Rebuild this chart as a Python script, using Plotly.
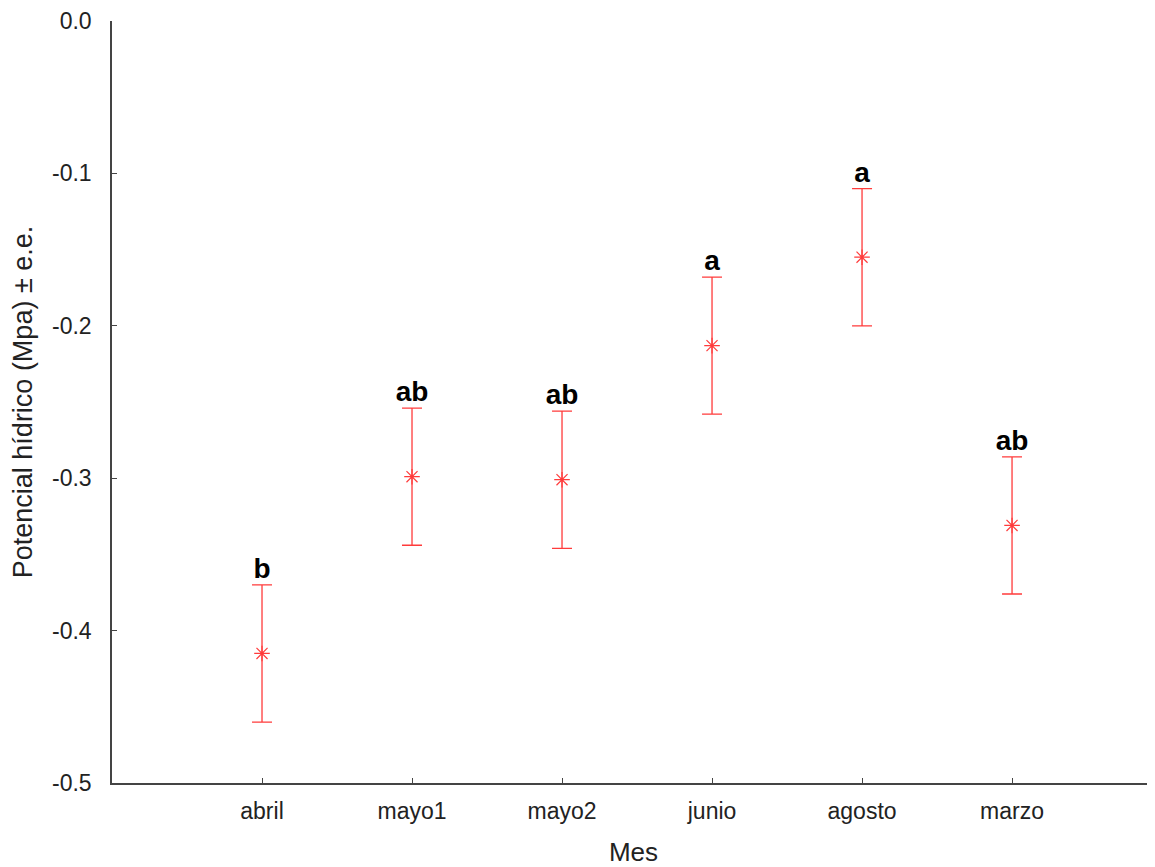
import plotly.graph_objects as go

meses = ["abril", "mayo1", "mayo2", "junio", "agosto", "marzo"]
medias = [-0.415, -0.299, -0.301, -0.213, -0.155, -0.331]
errores = [0.045, 0.045, 0.045, 0.045, 0.045, 0.045]
letras = ["b", "ab", "ab", "a", "a", "ab"]
y_ticks = [0.0, -0.1, -0.2, -0.3, -0.4, -0.5]
y_ticktext = ["0.0", "-0.1", "-0.2", "-0.3", "-0.4", "-0.5"]

red = "#ff3b3b"
xi = list(range(len(meses)))

fig = go.Figure()
fig.add_trace(go.Scatter(
    x=xi, y=medias, mode="markers",
    marker=dict(symbol="asterisk-open", size=13, color=red, line=dict(color=red, width=1.2)),
    error_y=dict(type="data", array=errores, visible=True, color=red, thickness=1.3, width=10),
    showlegend=False,
))
fig.add_trace(go.Scatter(
    x=xi, y=[m + e for m, e in zip(medias, errores)], mode="text",
    text=letras, textposition="top center",
    textfont=dict(family="Arial, Liberation Sans", size=28, color="black", weight="bold"),
    showlegend=False,
))

fig.update_layout(
    width=1147, height=859,
    margin=dict(l=104, r=0, t=13, b=84),
    plot_bgcolor="white", paper_bgcolor="white",
    font=dict(family="Arial, Liberation Sans", size=23, color="#222"),
    xaxis=dict(
        range=[-1, 5.953], tickvals=xi, ticktext=meses,
        showgrid=False, zeroline=False, showline=True, linecolor="#444", linewidth=1.5,
        ticks="inside", ticklen=5, tickcolor="#444", ticklabelstandoff=7,
        title=dict(text="Mes", font=dict(size=26), standoff=20),
    ),
    yaxis=dict(
        range=[-0.5, 0.0], tickvals=y_ticks, ticktext=y_ticktext,
        showgrid=False, zeroline=False, showline=True, linecolor="#444", linewidth=1.5,
        ticks="inside", ticklen=5, tickcolor="#444", ticklabelstandoff=14,
        title=dict(text="Potencial hídrico (Mpa) ± e.e.", font=dict(size=27), standoff=12),
    ),
)

fig.write_html("out.html")
